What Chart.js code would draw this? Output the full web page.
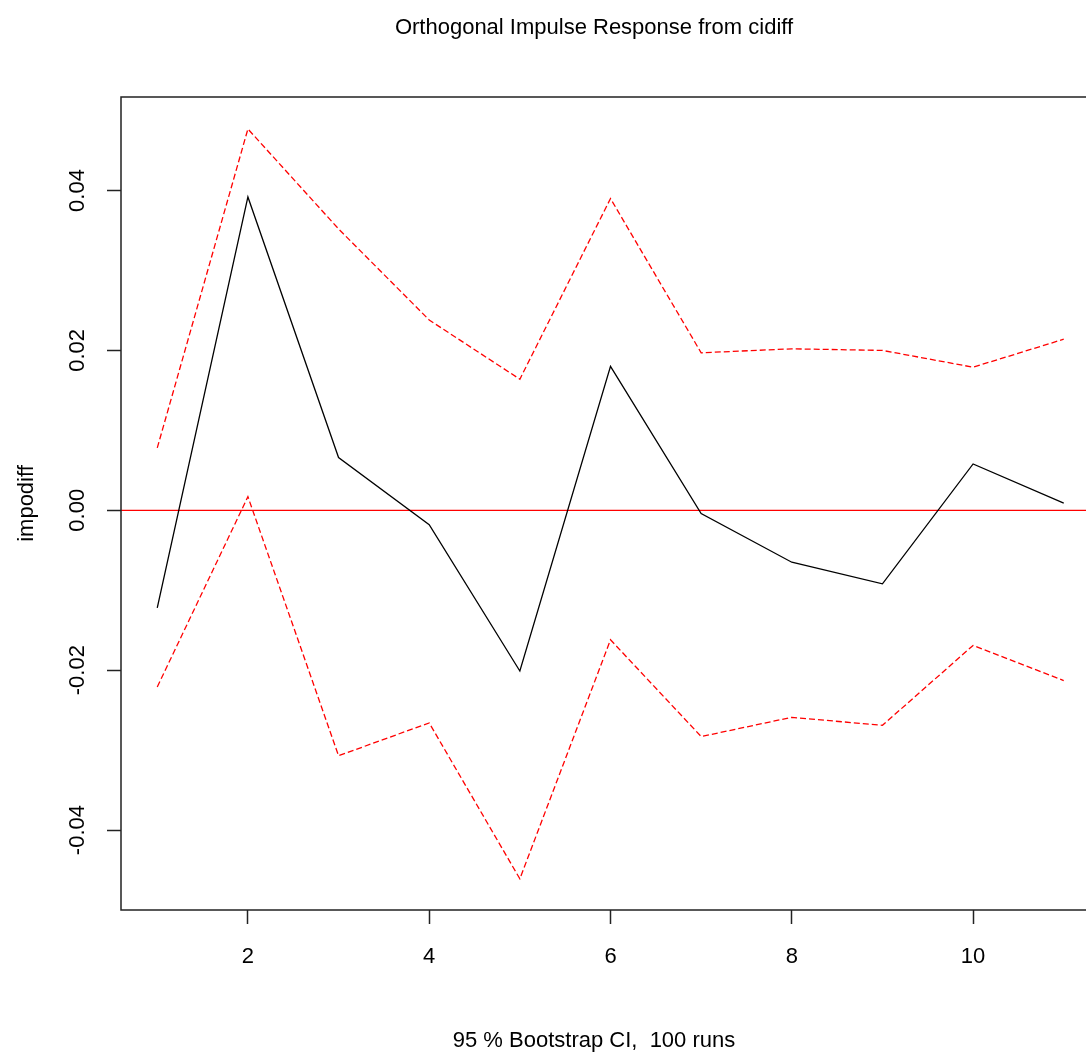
<!DOCTYPE html>
<html>
<head>
<meta charset="utf-8">
<script src="https://cdn.jsdelivr.net/npm/chart.js@4/dist/chart.umd.min.js"></script>
<style>
  html, body { margin: 0; padding: 0; background: #fff; overflow: hidden; }
  #wrap { position: absolute; left: 0; top: 0; width: 1188px; height: 1052px; }
</style>
</head>
<body>
<div id="wrap"><canvas id="c" width="1188" height="1052"></canvas></div>
<script>
// ---- data ----
const steps = [1, 2, 3, 4, 5, 6, 7, 8, 9, 10, 11];
const response = [-0.0122, 0.0392, 0.0066, -0.0018, -0.0201, 0.0180, -0.0004, -0.0065, -0.0092, 0.0058, 0.0009];
const upperCI = [0.0078, 0.0477, 0.0352, 0.0238, 0.0164, 0.0390, 0.0197, 0.0202, 0.0200, 0.0179, 0.0214];
const lowerCI = [-0.0221, 0.0017, -0.0307, -0.0266, -0.0461, -0.0162, -0.0283, -0.0259, -0.0269, -0.0169, -0.0213];
const xTicks = [2, 4, 6, 8, 10];
const yTicks = [-0.04, -0.02, 0.00, 0.02, 0.04];
const yTickLabels = ['-0.04', '-0.02', '0.00', '0.02', '0.04'];
const zeroLine = 0;
const xRange = [0.6, 11.4];
const yRange = [-0.0500, 0.0517];
const titleText = 'Orthogonal Impulse Response from cidiff';
const xTitleText = '95 % Bootstrap CI,  100 runs';
const yTitleText = 'impodiff';

const FONT = '"Liberation Sans", Arial, Helvetica, sans-serif';
const pts = arr => steps.map((s, i) => ({ x: s, y: arr[i] }));

const framePlugin = {
  id: 'frame',
  beforeDatasetsDraw(chart) {
    const { ctx, chartArea: a, scales } = chart;
    const y0 = scales.y.getPixelForValue(zeroLine);
    ctx.save();
    ctx.strokeStyle = '#ff0000';
    ctx.lineWidth = 1.2;
    ctx.beginPath();
    ctx.moveTo(a.left, y0);
    ctx.lineTo(a.right, y0);
    ctx.stroke();
    ctx.restore();
  },
  afterDraw(chart) {
    const { ctx, chartArea: a, scales } = chart;
    ctx.save();
    ctx.strokeStyle = '#222';
    ctx.lineWidth = 1.5;
    ctx.strokeRect(a.left, a.top, a.right - a.left, a.bottom - a.top);
    // rotated y tick labels
    ctx.fillStyle = '#000';
    ctx.font = '22px ' + FONT;
    ctx.textAlign = 'center';
    ctx.textBaseline = 'middle';
    yTicks.forEach((v, i) => {
      const py = scales.y.getPixelForValue(v);
      ctx.save();
      ctx.translate(78, py);
      ctx.rotate(-Math.PI / 2);
      ctx.fillText(yTickLabels[i], 0, 0);
      ctx.restore();
    });
    ctx.restore();
  }
};

new Chart(document.getElementById('c'), {
  type: 'line',
  data: {
    datasets: [
      { data: pts(response), borderColor: '#000', borderWidth: 1.3, pointRadius: 0, tension: 0, fill: false },
      { data: pts(upperCI), borderColor: '#ff0000', borderWidth: 1.3, borderDash: [6, 3], pointRadius: 0, tension: 0, fill: false },
      { data: pts(lowerCI), borderColor: '#ff0000', borderWidth: 1.3, borderDash: [6, 3], pointRadius: 0, tension: 0, fill: false }
    ]
  },
  options: {
    responsive: false,
    animation: false,
    devicePixelRatio: 1,
    layout: { padding: 0 },
    plugins: {
      legend: { display: false },
      tooltip: { enabled: false },
      title: {
        display: true, text: titleText, color: '#000',
        font: { family: FONT, size: 22, weight: 'normal', lineHeight: 1.2 },
        padding: { top: 15, bottom: 55.6 }
      },
      subtitle: {
        display: true, position: 'bottom', text: xTitleText, color: '#000',
        font: { family: FONT, size: 22, weight: 'normal', lineHeight: 1.0 },
        padding: { top: 0, bottom: 0 }
      }
    },
    scales: {
      x: {
        type: 'linear', min: xRange[0], max: xRange[1],
        afterBuildTicks: s => { s.ticks = xTicks.map(v => ({ value: v })); },
        afterFit: s => { s.height = 120; },
        grid: { display: true, drawOnChartArea: false, drawTicks: true, tickLength: 14, tickColor: '#222', tickWidth: 1.5 },
        border: { display: false },
        ticks: { color: '#000', font: { family: FONT, size: 22 }, padding: 20, maxRotation: 0, autoSkip: false,
                 callback: v => String(v) }
      },
      y: {
        type: 'linear', position: 'left', min: yRange[0], max: yRange[1],
        afterBuildTicks: s => { s.ticks = yTicks.map(v => ({ value: v })); },
        afterFit: s => { s.width = 121; },
        grid: { display: true, drawOnChartArea: false, drawTicks: true, tickLength: 14, tickColor: '#222', tickWidth: 1.5 },
        border: { display: false },
        ticks: { display: false },
        title: { display: true, text: yTitleText, color: '#000', font: { family: FONT, size: 22 }, padding: { top: 14, bottom: 0 } }
      },
      yRightMargin: {
        type: 'linear', position: 'right', display: true,
        afterFit: s => { s.width = 88; },
        grid: { display: false },
        border: { display: false },
        ticks: { display: false }
      }
    }
  },
  plugins: [framePlugin]
});
</script>
</body>
</html>
